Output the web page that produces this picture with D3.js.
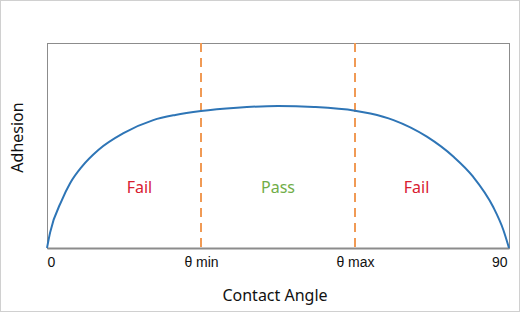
<!DOCTYPE html>
<html>
<head>
<meta charset="utf-8">
<script src="https://cdn.jsdelivr.net/npm/d3@7"></script>
<style>
    body { margin: 0; background: #fff; }
    svg { display: block; font-family: "Noto Sans", "Open Sans", sans-serif; }
</style>
</head>
<body>
<div id="chart"></div>
<script>
// curve (angle in degrees, adhesion 0..1)
const angles   = [0, 0.6, 2.9, 4.5, 6.8, 10, 14.9, 20.7, 25, 30, 37, 45, 52, 60, 63, 67.5, 74, 79.2, 83, 86.9, 88.9, 90];
const adhesion = [0, 0.075, 0.234, 0.316, 0.397, 0.478, 0.56, 0.624, 0.649, 0.668, 0.684, 0.693, 0.688, 0.67, 0.656, 0.624, 0.543, 0.445, 0.348, 0.201, 0.088, 0];

const tickValues = [0, 30, 60, 90];
const tickLabels = ["0", "θ min", "θ max", "90"];
const limits = [30, 60];

const zoneNames = ["Fail", "Pass", "Fail"];
const zoneAt = [18, 45, 72];
const zoneColors = ["#d8202f", "#70ad47", "#d8202f"];

const width = 520;
const height = 312;
const margin = { top: 43, right: 11, bottom: 64, left: 47 };

const svg = d3.select("#chart")
    .append("svg")
    .attr("width", width)
    .attr("height", height);

// light outer border
svg.append("rect")
    .attr("x", 0.5).attr("y", 0.5)
    .attr("width", width - 1).attr("height", height - 1)
    .attr("fill", "#fff")
    .attr("stroke", "#d0d0d0");

const x = d3.scaleLinear().domain([0, 90]).range([margin.left, width - margin.right]);
const y = d3.scaleLinear().domain([0, 1]).range([height - margin.bottom, margin.top]);

// plot frame
svg.append("rect")
    .attr("x", x(0) + 0.5).attr("y", y(1) + 0.5)
    .attr("width", x(90) - x(0)).attr("height", y(0) - y(1))
    .attr("fill", "none")
    .attr("stroke", "#8c8c8c");

// bottom axis, labels only
const xAxis = svg.append("g")
    .attr("transform", `translate(0,${y(0)})`)
    .call(d3.axisBottom(x).tickValues(tickValues).tickSize(0).tickPadding(9)
        .tickFormat((d, i) => tickLabels[i]));
xAxis.select(".domain").attr("stroke", "#8c8c8c").attr("stroke-width", 2);
xAxis.selectAll("text")
    .attr("font-size", 14)
    .attr("fill", "#111")
    .attr("text-anchor", (d, i) => i === 0 ? "start" : i === tickValues.length - 1 ? "end" : "middle")
    .attr("dx", (d, i) => i === tickValues.length - 1 ? -2 : 0);

// limit lines
svg.append("g").selectAll("line")
    .data(limits)
    .enter()
    .append("line")
    .attr("x1", d => x(d)).attr("x2", d => x(d))
    .attr("y1", y(1)).attr("y2", y(0))
    .attr("stroke", "#f09a55")
    .attr("stroke-width", 2)
    .attr("stroke-dasharray", "9,6");

// adhesion curve
const line = d3.line()
    .x(d => x(d[0]))
    .y(d => y(d[1]))
    .curve(d3.curveMonotoneX);

svg.append("path")
    .datum(angles.map((a, i) => [a, adhesion[i]]))
    .attr("d", line)
    .attr("fill", "none")
    .attr("stroke", "#2e75b6")
    .attr("stroke-width", 2);

// zone labels
svg.append("g").selectAll("text")
    .data(zoneNames)
    .enter()
    .append("text")
    .attr("x", (d, i) => x(zoneAt[i]))
    .attr("y", 193)
    .attr("text-anchor", "middle")
    .attr("font-size", 16)
    .attr("fill", (d, i) => zoneColors[i])
    .text(d => d);

// axis titles
svg.append("text")
    .attr("x", (x(0) + x(90)) / 2 - 3)
    .attr("y", 301)
    .attr("text-anchor", "middle")
    .attr("font-size", 16)
    .attr("fill", "#111")
    .text("Contact Angle");

svg.append("text")
    .attr("transform", `translate(23,${(y(0) + y(1)) / 2 - 8}) rotate(-90)`)
    .attr("text-anchor", "middle")
    .attr("font-size", 16)
    .attr("fill", "#111")
    .text("Adhesion");
</script>
</body>
</html>
